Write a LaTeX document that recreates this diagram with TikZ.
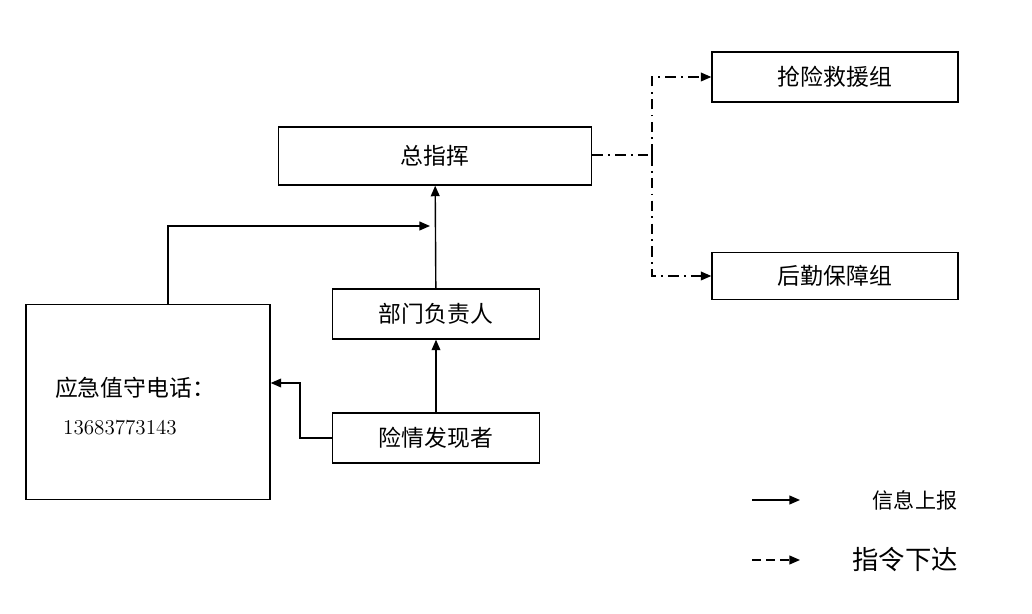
\documentclass[tikz,border=0pt]{standalone}
\usepackage{fontspec}
\newfontfamily\cjk{Noto Sans CJK SC}
\usetikzlibrary{arrows.meta}
\tikzset{
  box/.style={draw, line width=0.8pt, minimum height=1.0cm, font=\cjk\fontsize{13}{15}\selectfont},
  up/.style={line width=0.8pt, -{Triangle[length=6pt,width=5pt]}},
  down/.style={line width=0.8pt, dash pattern=on 6pt off 3pt on 1pt off 3pt, -{Triangle[length=6pt,width=5pt]}}
}
\begin{document}
\begin{tikzpicture}[x=0.02cm,y=-0.02cm]
\useasboundingbox (0,0) rectangle (1032,614);
% boxes
\node[box, minimum width=6.26cm, minimum height=1.16cm] (zong) at (435,156) {总指挥};
\node[box, minimum width=4.92cm] (qiang) at (835,77) {抢险救援组};
\node[box, minimum width=4.92cm, minimum height=0.94cm] (hou) at (835,276) {后勤保障组};
\node[box, minimum width=4.14cm] (bu) at (436,314) {部门负责人};
\node[box, minimum width=4.14cm] (xian) at (436,438) {险情发现者};
\node[draw, line width=0.8pt, minimum width=4.88cm, minimum height=3.9cm] (tel) at (148,402) {};
\node[font=\cjk\fontsize{13}{15}\selectfont] (telt) at (135,388) {应急值守电话：};
\node[font=\fontsize{12}{14}\selectfont] (num) at (120,428) {13683773143};
% report lines
\coordinate (c1) at (tel.north -| 168,0);
\draw[up] (xian) -- (bu);
\draw[up] (bu) -- (zong);
\draw[up] (168,305) |- (430,226);
\draw[up] (xian.west) -| (300,383) -- (tel.east |- 0,383);
% orders
\coordinate (split) at (652,155);
\draw[line width=0.8pt, dash pattern=on 6pt off 3pt on 1pt off 3pt] (zong.east |- split) -- (split);
\draw[down] (split) |- (qiang.west);
\draw[down] (split) |- (hou.west);
% legend
\coordinate (l1) at (752,500);
\coordinate (l2) at (800,500);
\coordinate (l3) at (752,560);
\coordinate (l4) at (800,560);
\draw[up] (l1) -- (l2);
\draw[line width=0.8pt, dash pattern=on 5pt off 3pt, -{Triangle[length=6pt,width=5pt]}] (l3) -- (l4);
\node[font=\cjk\fontsize{12}{14}\selectfont] (lg1) at (915,500) {信息上报};
\node[font=\cjk\fontsize{15}{17}\selectfont] (lg2) at (905,560) {指令下达};
\end{tikzpicture}
\end{document}
